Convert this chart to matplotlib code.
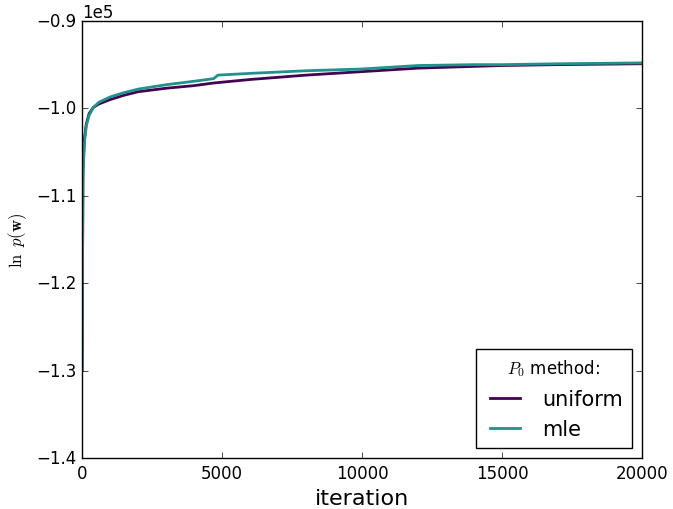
import matplotlib
matplotlib.use("Agg")
import matplotlib.pyplot as plt

iters_uniform = [0, 30, 80, 150, 250, 400, 600, 1000, 1500, 2000, 3000, 4000, 4700,
                 6000, 8000, 10000, 12000, 14000, 15000, 17000, 20000]
lnp_uniform = [-1.30e5, -1.07e5, -1.035e5, -1.018e5, -1.006e5, -0.999e5, -0.995e5,
               -0.990e5, -0.985e5, -0.981e5, -0.977e5, -0.974e5, -0.971e5,
               -0.967e5, -0.962e5, -0.958e5, -0.954e5, -0.952e5, -0.951e5,
               -0.950e5, -0.949e5]

iters_mle = [0, 30, 80, 150, 250, 400, 600, 1000, 1500, 2000, 3000, 4000, 4700,
             4850, 6000, 8000, 10000, 12000, 14000, 15000, 17000, 20000]
lnp_mle = [-1.30e5, -1.08e5, -1.04e5, -1.02e5, -1.008e5, -0.999e5, -0.993e5,
           -0.987e5, -0.982e5, -0.978e5, -0.973e5, -0.969e5, -0.966e5,
           -0.962e5, -0.960e5, -0.957e5, -0.955e5, -0.951e5, -0.950e5,
           -0.950e5, -0.949e5, -0.948e5]

plt.style.use('classic')
plt.rcParams['figure.facecolor'] = 'white'
plt.rcParams['savefig.facecolor'] = 'white'

fig = plt.figure(figsize=(6.73, 5.10), dpi=100)
ax = fig.add_axes([0.122, 0.1, 0.832, 0.857])

ax.plot(iters_uniform, lnp_uniform, color='#440154', lw=2, label='uniform')
ax.plot(iters_mle, lnp_mle, color='#21918c', lw=2, label='mle')

ax.set_xlim(0, 20000)
ax.set_ylim(-1.4e5, -0.9e5)
ax.ticklabel_format(axis='y', style='sci', scilimits=(0, 0))
ax.set_xlabel('iteration', fontsize=16)
ax.set_ylabel(r'$\ln\ p(\mathbf{w})$', fontsize=12)

leg = ax.legend(loc='lower right', title=r'$P_0$ method:', fontsize=15)
leg.get_title().set_fontsize(12)

fig.savefig('out.png', dpi=100)
